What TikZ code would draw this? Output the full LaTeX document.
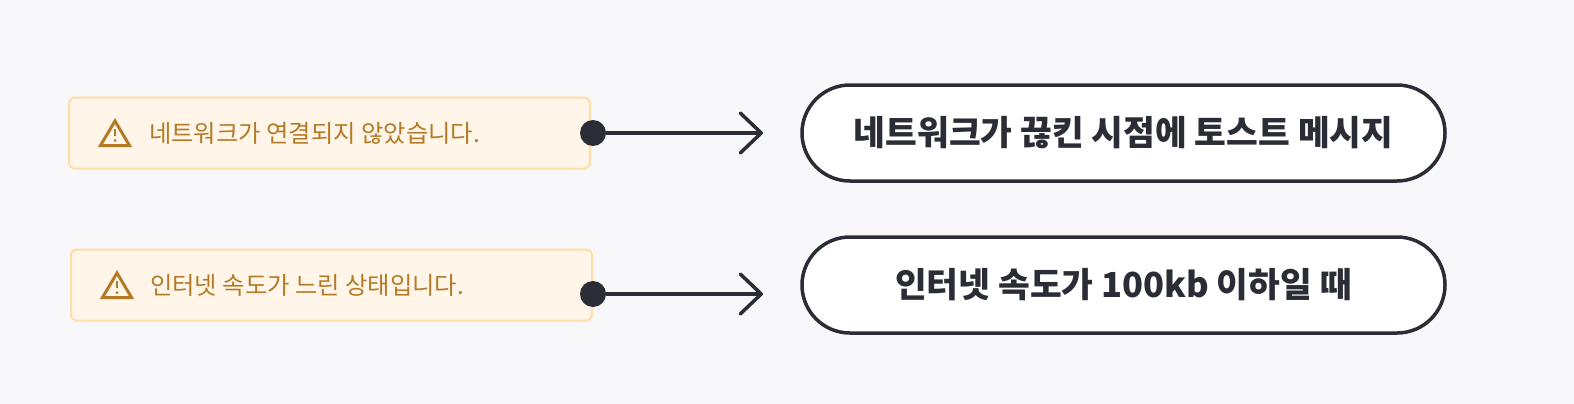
\documentclass[tikz,border=0pt]{standalone}
\usepackage{fontspec}
\setmainfont{Noto Sans CJK KR}
\usetikzlibrary{arrows.meta}
\usetikzlibrary{positioning}
\usetikzlibrary{scopes}
\definecolor{pagebg}{HTML}{F8F8FB}
\definecolor{warnfill}{HTML}{FFF5E8}
\definecolor{warnline}{HTML}{FFDDA8}
\definecolor{warntext}{HTML}{B47A25}
\definecolor{darkline}{HTML}{2B2D36}
\tikzset{
    warnbox/.style={draw=warnline,fill=warnfill,line width=2pt,rounded corners=6pt,minimum width=521pt,minimum height=71pt,inner sep=0pt},
    warnlabel/.style={text=warntext,font=\fontsize{24.3}{28}\selectfont,inner sep=0pt,anchor=west},
    pillbox/.style={draw=darkline,fill=white,line width=3.5pt,rounded corners=48pt,minimum width=643pt,minimum height=96pt,inner sep=0pt,font=\fontsize{34.5}{40}\selectfont\bfseries,text=darkline},
    startdot/.style={circle,fill=darkline,minimum size=26pt,inner sep=0pt},
    flowline/.style={draw=darkline,line width=3.5pt,-{Straight Barb[length=21pt,width=40pt,line width=3.5pt,round]}}
}
\begin{document}
\begin{tikzpicture}[x=1pt,y=-1pt]
\useasboundingbox[fill=pagebg] (0,0) rectangle (1574,404);

\node[warnbox] (warnA) at (329.5,133) {};
\node[warnbox] (warnB) at (331.5,285) {};
\node[warnlabel,right=81pt of warnA.west] (warnAtext) {네트워크가 연결되지 않았습니다.};
\node[warnlabel,right=80pt of warnB.west] (warnBtext) {인터넷 속도가 느린 상태입니다.};

{[shift={(98,118)}]
    \draw[warntext,line width=3pt,line join=miter] (17,3) -- (31.5,27.5) -- (2.5,27.5) -- cycle;
    \draw[warntext,line width=2.5pt] (17,11) -- (17,18);
    \fill[warntext] (17,22.5) circle (1.5pt);
}
{[shift={(100,270)}]
    \draw[warntext,line width=3pt,line join=miter] (17,3) -- (31.5,27.5) -- (2.5,27.5) -- cycle;
    \draw[warntext,line width=2.5pt] (17,11) -- (17,18);
    \fill[warntext] (17,22.5) circle (1.5pt);
}

\node[pillbox] (pillA) at (1123.5,133) {네트워크가 끊킨 시점에 토스트 메시지};
\node[pillbox] (pillB) at (1123.5,285) {인터넷 속도가 100kb 이하일 때};

\node[startdot] (dotA) at (593,133) {};
\node[startdot] (dotB) at (593,294) {};
\coordinate (endA) at (763,133);
\coordinate (endB) at (763,294);
\draw[flowline] (dotA) -- (endA);
\draw[flowline] (dotB) -- (endB);
\end{tikzpicture}
\end{document}
